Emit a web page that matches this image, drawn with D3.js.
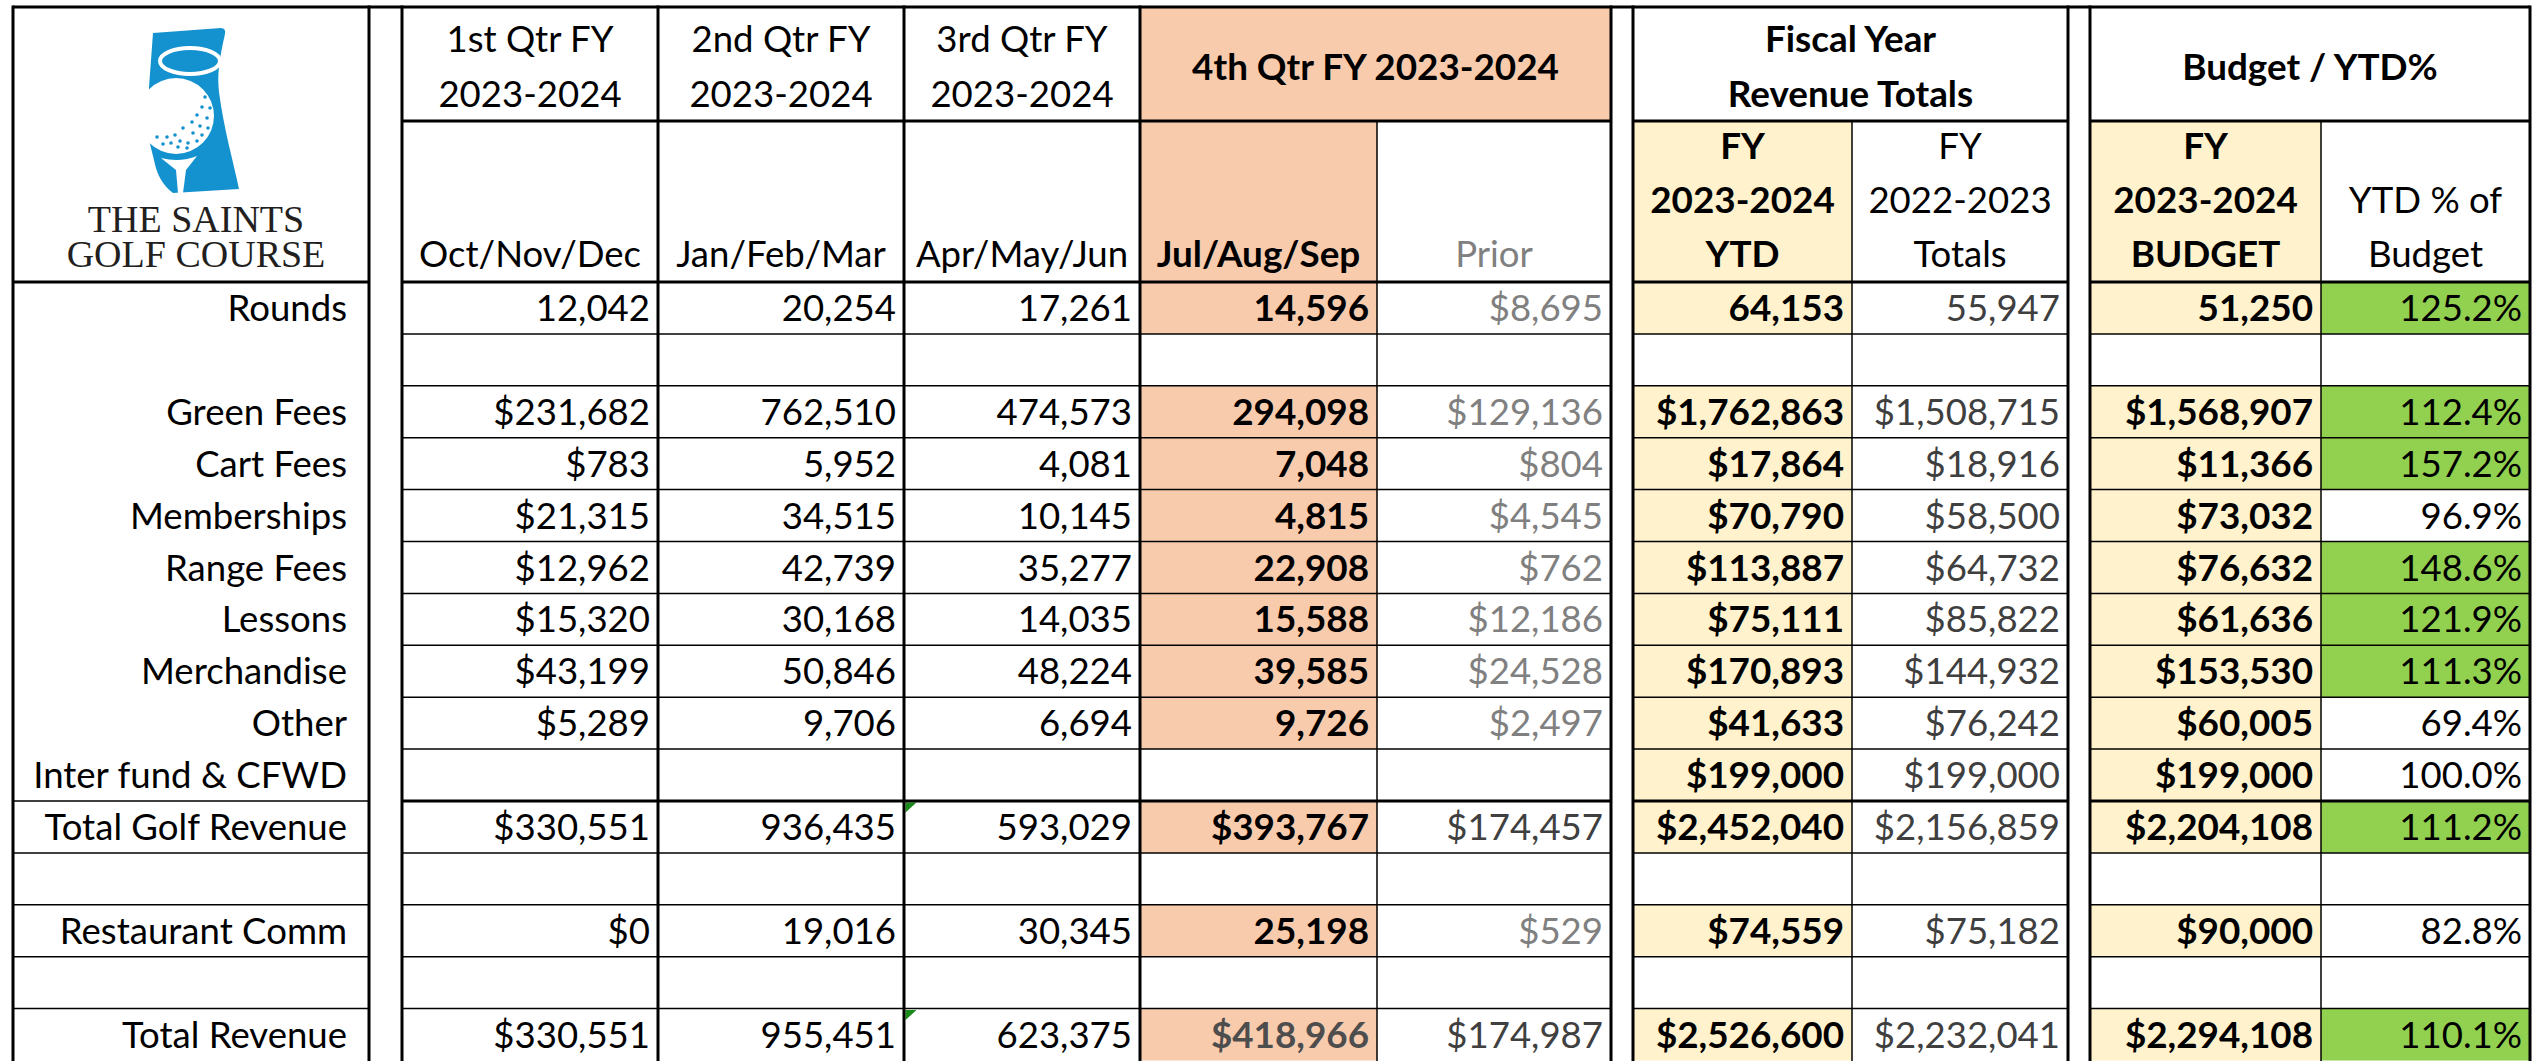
<!DOCTYPE html>
<html>
<head>
<meta charset="utf-8">
<script src="https://cdn.jsdelivr.net/npm/d3@7"></script>
<style>
  html, body { margin: 0; padding: 0; background: #fff; }
  svg { display: block; }
</style>
</head>
<body>
<div id="chart"></div>
<script>
// rows of the report (blank strings are spacer rows)
const rowLabels = ["Rounds", "", "Green Fees", "Cart Fees", "Memberships", "Range Fees", "Lessons",
  "Merchandise", "Other", "Inter fund & CFWD", "Total Golf Revenue", "", "Restaurant Comm", "", "Total Revenue"];

const q1Values = [12042, null, 231682, 783, 21315, 12962, 15320, 43199, 5289, null, 330551, null, 0, null, 330551];
const q2Values = [20254, null, 762510, 5952, 34515, 42739, 30168, 50846, 9706, null, 936435, null, 19016, null, 955451];
const q3Values = [17261, null, 474573, 4081, 10145, 35277, 14035, 48224, 6694, null, 593029, null, 30345, null, 623375];
const q4Values = [14596, null, 294098, 7048, 4815, 22908, 15588, 39585, 9726, null, 393767, null, 25198, null, 418966];
const priorValues = [8695, null, 129136, 804, 4545, 762, 12186, 24528, 2497, null, 174457, null, 529, null, 174987];
const ytdValues = [64153, null, 1762863, 17864, 70790, 113887, 75111, 170893, 41633, 199000, 2452040, null, 74559, null, 2526600];
const fy22Values = [55947, null, 1508715, 18916, 58500, 64732, 85822, 144932, 76242, 199000, 2156859, null, 75182, null, 2232041];
const budgetValues = [51250, null, 1568907, 11366, 73032, 76632, 61636, 153530, 60005, 199000, 2204108, null, 90000, null, 2294108];
const pctValues = [125.2, null, 112.4, 157.2, 96.9, 148.6, 121.9, 111.3, 69.4, 100.0, 111.2, null, 82.8, null, 110.1];

const groupHeaders = [
  { cols: ["q1"], lines: ["1st Qtr FY", "2023-2024"], bold: false },
  { cols: ["q2"], lines: ["2nd Qtr FY", "2023-2024"], bold: false },
  { cols: ["q3"], lines: ["3rd Qtr FY", "2023-2024"], bold: false },
  { cols: ["q4", "prior"], lines: ["4th Qtr FY 2023-2024"], bold: true, fill: "#F8CBAD" },
  { cols: ["ytd", "fy22"], lines: ["Fiscal Year", "Revenue Totals"], bold: true },
  { cols: ["budget", "pct"], lines: ["Budget / YTD%"], bold: true }
];
const colHeaders = {
  q1: ["Oct/Nov/Dec"], q2: ["Jan/Feb/Mar"], q3: ["Apr/May/Jun"], q4: ["Jul/Aug/Sep"], prior: ["Prior"],
  ytd: ["FY", "2023-2024", "YTD"], fy22: ["FY", "2022-2023", "Totals"],
  budget: ["FY", "2023-2024", "BUDGET"], pct: ["YTD % of", "Budget"]
};
const logoLines = ["THE SAINTS", "GOLF COURSE"];
const excelFlags = [{ col: "q3", row: 10 }, { col: "q3", row: 14 }];

const SALMON = "#F8CBAD", YELLOW = "#FFF2CC", GREEN = "#92D050";
const FONT = "Lato, Carlito, Calibri, sans-serif";

const width = 2535;
const height = 1061;

const svg = d3.select("#chart")
  .append("svg")
  .attr("width", width)
  .attr("height", height)
  .style("background-color", "#ffffff");

// column layout
const colEdges = {
  q1: [402, 658], q2: [658, 904], q3: [904, 1140], q4: [1140, 1377], prior: [1377, 1611],
  ytd: [1633, 1852], fy22: [1852, 2068], budget: [2090, 2321], pct: [2321, 2530]
};
const x0 = d3.scaleOrdinal().domain(Object.keys(colEdges)).range(Object.values(colEdges).map(d => d[0]));
const x1 = d3.scaleOrdinal().domain(Object.keys(colEdges)).range(Object.values(colEdges).map(d => d[1]));

const topY = 7, headMid = 121, headBottom = 282;
const y = d3.scaleBand()
  .domain(d3.range(rowLabels.length))
  .range([headBottom, headBottom + 51.9 * rowLabels.length])
  .paddingInner(0);

// Calibri-like width: squeeze Lato horizontally
const measure = (str, weight) => {
  const t = svg.append("text").attr("font-family", FONT).attr("font-size", 36)
    .attr("font-weight", weight).text(str);
  const w = t.node().getComputedTextLength();
  t.remove();
  return w;
};
const sxNormal = 314 / measure("Inter fund & CFWD", "normal");
const sxBold = 367 / measure("4th Qtr FY 2023-2024", "bold");

const addText = (g, x, yy, str, o = {}) => {
  const bold = o.bold;
  g.append("text")
    .attr("transform", `translate(${x},${yy}) scale(${bold ? sxBold : sxNormal},1)`)
    .attr("text-anchor", o.anchor || "middle")
    .attr("font-family", FONT)
    .attr("font-size", 36)
    .attr("font-weight", bold ? "bold" : "normal")
    .attr("fill", o.color || "#000")
    .text(str);
};

const fmt = d3.format(",");
const columns = [
  { key: "q1", values: q1Values, dollar: i => i > 0 },
  { key: "q2", values: q2Values, dollar: () => false },
  { key: "q3", values: q3Values, dollar: () => false },
  { key: "q4", values: q4Values, dollar: i => i === 10 || i === 14, bold: () => true,
    color: i => (i === 14 ? "#4d4d4d" : "#000"), fill: () => SALMON },
  { key: "prior", values: priorValues, dollar: () => true,
    color: i => (i === 10 || i === 14 ? "#404040" : "#808080") },
  { key: "ytd", values: ytdValues, dollar: i => i > 0, bold: () => true, fill: () => YELLOW },
  { key: "fy22", values: fy22Values, dollar: i => i > 0, color: () => "#3f3f3f" },
  { key: "budget", values: budgetValues, dollar: i => i > 0, bold: () => true, fill: () => YELLOW },
  { key: "pct", values: pctValues, pct: true, fill: (i, v) => (v > 100 ? GREEN : null) }
];

// ---- fills
const fills = svg.append("g").attr("class", "fills");
groupHeaders.filter(h => h.fill).forEach(h => {
  fills.append("rect")
    .attr("x", x0(h.cols[0])).attr("y", topY)
    .attr("width", x1(h.cols[h.cols.length - 1]) - x0(h.cols[0]))
    .attr("height", headMid - topY)
    .attr("fill", h.fill);
});
[["q4", SALMON], ["ytd", YELLOW], ["budget", YELLOW]].forEach(([k, c]) => {
  fills.append("rect")
    .attr("x", x0(k)).attr("y", headMid)
    .attr("width", x1(k) - x0(k)).attr("height", headBottom - headMid)
    .attr("fill", c);
});
columns.filter(c => c.fill).forEach(c => {
  fills.selectAll(null)
    .data(c.values.map((v, i) => ({ v, i })).filter(d => d.v !== null && c.fill(d.i, d.v)))
    .enter()
    .append("rect")
    .attr("x", x0(c.key))
    .attr("y", d => y(d.i))
    .attr("width", x1(c.key) - x0(c.key))
    .attr("height", y.bandwidth())
    .attr("fill", d => c.fill(d.i, d.v));
});

// excel "number stored as text" markers
svg.append("g").selectAll("path")
  .data(excelFlags)
  .enter()
  .append("path")
  .attr("d", d => {
    const px = x0(d.col) + 1.5, py = y(d.row) + 1.5;
    return `M${px},${py}L${px + 11},${py}L${px},${py + 10}Z`;
  })
  .attr("fill", "#1a8a1a");

// ---- grid lines
const lines = svg.append("g").attr("class", "grid").attr("stroke", "#000");
const hLine = (xa, xb, yy, w) => lines.append("line")
  .attr("x1", xa).attr("x2", xb).attr("y1", yy).attr("y2", yy).attr("stroke-width", w);
const vLine = (xx, ya, yb, w) => lines.append("line")
  .attr("x1", xx).attr("x2", xx).attr("y1", ya).attr("y2", yb).attr("stroke-width", w);

const blocks = [[402, 1611], [1633, 2068], [2090, 2530]];
const bottomY = height + 2;

blocks.forEach(([a, b]) => {
  d3.range(1, rowLabels.length).forEach(i => hLine(a, b, y(i), i === 10 ? 3 : 1.5));
  hLine(a, b, headMid, 3);
  hLine(a, b, headBottom, 3);
});
d3.range(10, rowLabels.length).forEach(i => hLine(13, 369, y(i), 1.5));
hLine(13, 369, headBottom, 3);
hLine(13, 2530, topY, 3);

[13, 369, 402, 658, 904, 1140, 1611, 1633, 2068, 2090, 2530].forEach(xx => vLine(xx, topY - 1.5, bottomY, 3));
[1377, 1852, 2321].forEach(xx => vLine(xx, headMid, bottomY, 1.5));

// ---- header text
const head = svg.append("g").attr("class", "header");
groupHeaders.forEach(h => {
  const cx = (x0(h.cols[0]) + x1(h.cols[h.cols.length - 1])) / 2;
  const base = h.lines.length === 1 ? 80 : 52;
  h.lines.forEach((t, j) => addText(head, cx, base + j * 55, t, { bold: h.bold }));
});
Object.entries(colHeaders).forEach(([k, ls]) => {
  const cx = (x0(k) + x1(k)) / 2;
  const bold = ["q4", "ytd", "budget"].includes(k);
  const color = k === "prior" ? "#808080" : "#000";
  ls.forEach((t, j) => addText(head, cx, 267 - (ls.length - 1 - j) * 54, t, { bold, color }));
});

// ---- row labels
const labels = svg.append("g").attr("class", "labels");
rowLabels.forEach((t, i) => {
  if (t) addText(labels, 347, y(i) + 39, t, { anchor: "end" });
});

// ---- values
const cells = svg.append("g").attr("class", "cells");
columns.forEach(c => {
  c.values.forEach((v, i) => {
    if (v === null) return;
    const str = c.pct ? d3.format(".1f")(v) + "%" : (c.dollar(i) ? "$" : "") + fmt(v);
    addText(cells, x1(c.key) - 8, y(i) + 39, str, {
      anchor: "end",
      bold: c.bold ? c.bold(i) : false,
      color: c.color ? c.color(i) : "#000"
    });
  });
});

// ---- logo
const logo = svg.append("g").attr("class", "logo");
logo.append("path")
  .attr("d", "M153,33 L221,28 Q226,28 225,34 C219,60 217,76 219,92 C224,130 233,160 239,189 L173,193 Q158,182 154,160 L149,140 L149,87 Z")
  .attr("fill", "#1492cf");
logo.append("ellipse")
  .attr("cx", 190).attr("cy", 61).attr("rx", 30).attr("ry", 13)
  .attr("fill", "none").attr("stroke", "#fff").attr("stroke-width", 4);
logo.append("circle").attr("cx", 176).attr("cy", 116).attr("r", 38).attr("fill", "#fff");
logo.append("path")
  .attr("d", "M161,158 Q180,163 197,156 L186,170 L183,193 L178,193 L176,170 Z")
  .attr("fill", "#fff");
const dimples = [[205, 97], [202, 107], [210, 108], [197, 115], [207, 118], [192, 122], [200, 126], [208, 128],
  [183, 128], [193, 133], [202, 135], [157, 137], [167, 137], [175, 135], [163, 144], [171, 143], [180, 141],
  [188, 143], [197, 141], [178, 147], [187, 148]];
logo.selectAll("circle.dimple")
  .data(dimples)
  .enter()
  .append("circle")
  .attr("class", "dimple")
  .attr("cx", d => d[0]).attr("cy", d => d[1]).attr("r", 1.8)
  .attr("fill", "#1492cf");
logo.append("text")
  .attr("text-anchor", "middle")
  .attr("font-family", "'Liberation Serif', 'DejaVu Serif', serif")
  .attr("font-size", 38)
  .attr("fill", "#231f20")
  .selectAll("tspan")
  .data(logoLines)
  .enter()
  .append("tspan")
  .attr("x", 196)
  .attr("y", (d, i) => 232 + i * 35)
  .text(d => d);
</script>
</body>
</html>
